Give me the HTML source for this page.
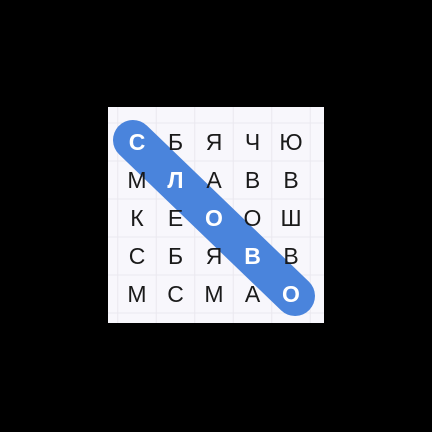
<!DOCTYPE html>
<html><head><meta charset="utf-8"><style>
html,body{margin:0;padding:0;background:#000;width:432px;height:432px;overflow:hidden}
svg{display:block}
</style></head><body>
<svg id="s" width="432" height="432" xmlns="http://www.w3.org/2000/svg">
<rect x="0" y="0" width="432" height="432" fill="#000"/>
<rect x="108" y="107" width="216" height="216" fill="#f8f7fc"/>
<g id="grid" stroke="#eae8ef" stroke-width="1"></g>
<line x1="130" y1="141" x2="298" y2="291" stroke="#4a84dc" stroke-width="40" stroke-linecap="round" id="pill"/>
<g id="letters" font-family="Liberation Sans, DejaVu Sans, sans-serif" font-size="23" text-anchor="middle"></g>
</svg>
<script>
const rows = ["СБЯЧЮ","МЛАВВ","КЕООШ","СБЯВВ","МСМАО"];
const found = [[0,0],[1,1],[2,2],[3,3],[4,4]];
const ns="http://www.w3.org/2000/svg";
const x0=137, y0=142, px=38.5, py=38;
const cx=c=>x0+c*px, cy=r=>y0+r*py;
const g=document.getElementById('grid');
for(let i=0;i<6;i++){
  const lx=cx(i)-px/2, ly=cy(i)-py/2;
  const v=document.createElementNS(ns,'line');
  v.setAttribute('x1',lx);v.setAttribute('x2',lx);v.setAttribute('y1',107);v.setAttribute('y2',323);
  
  
  g.appendChild(v);
  const h=document.createElementNS(ns,'line');
  h.setAttribute('y1',ly);h.setAttribute('y2',ly);h.setAttribute('x1',108);h.setAttribute('x2',324);
  
  
  g.appendChild(h);
}
const p=document.getElementById('pill');
const f0=found[0], f1=found[found.length-1];
p.setAttribute('x1',cx(f0[1])-4);p.setAttribute('y1',cy(f0[0])-2);
p.setAttribute('x2',cx(f1[1])+4);p.setAttribute('y2',cy(f1[0])+2);
const L=document.getElementById('letters');
rows.forEach((row,r)=>{[...row].forEach((ch,c)=>{
  const t=document.createElementNS(ns,'text');
  const hit=found.some(f=>f[0]===r&&f[1]===c);
  t.setAttribute('x',cx(c));t.setAttribute('y',cy(r)+8);
  t.setAttribute('fill',hit?'#ffffff':'#1a1a1a');
  if(hit)t.setAttribute('font-weight','bold');
  t.textContent=ch;
  
  
  L.appendChild(t);
});});
</script>
</body></html>
